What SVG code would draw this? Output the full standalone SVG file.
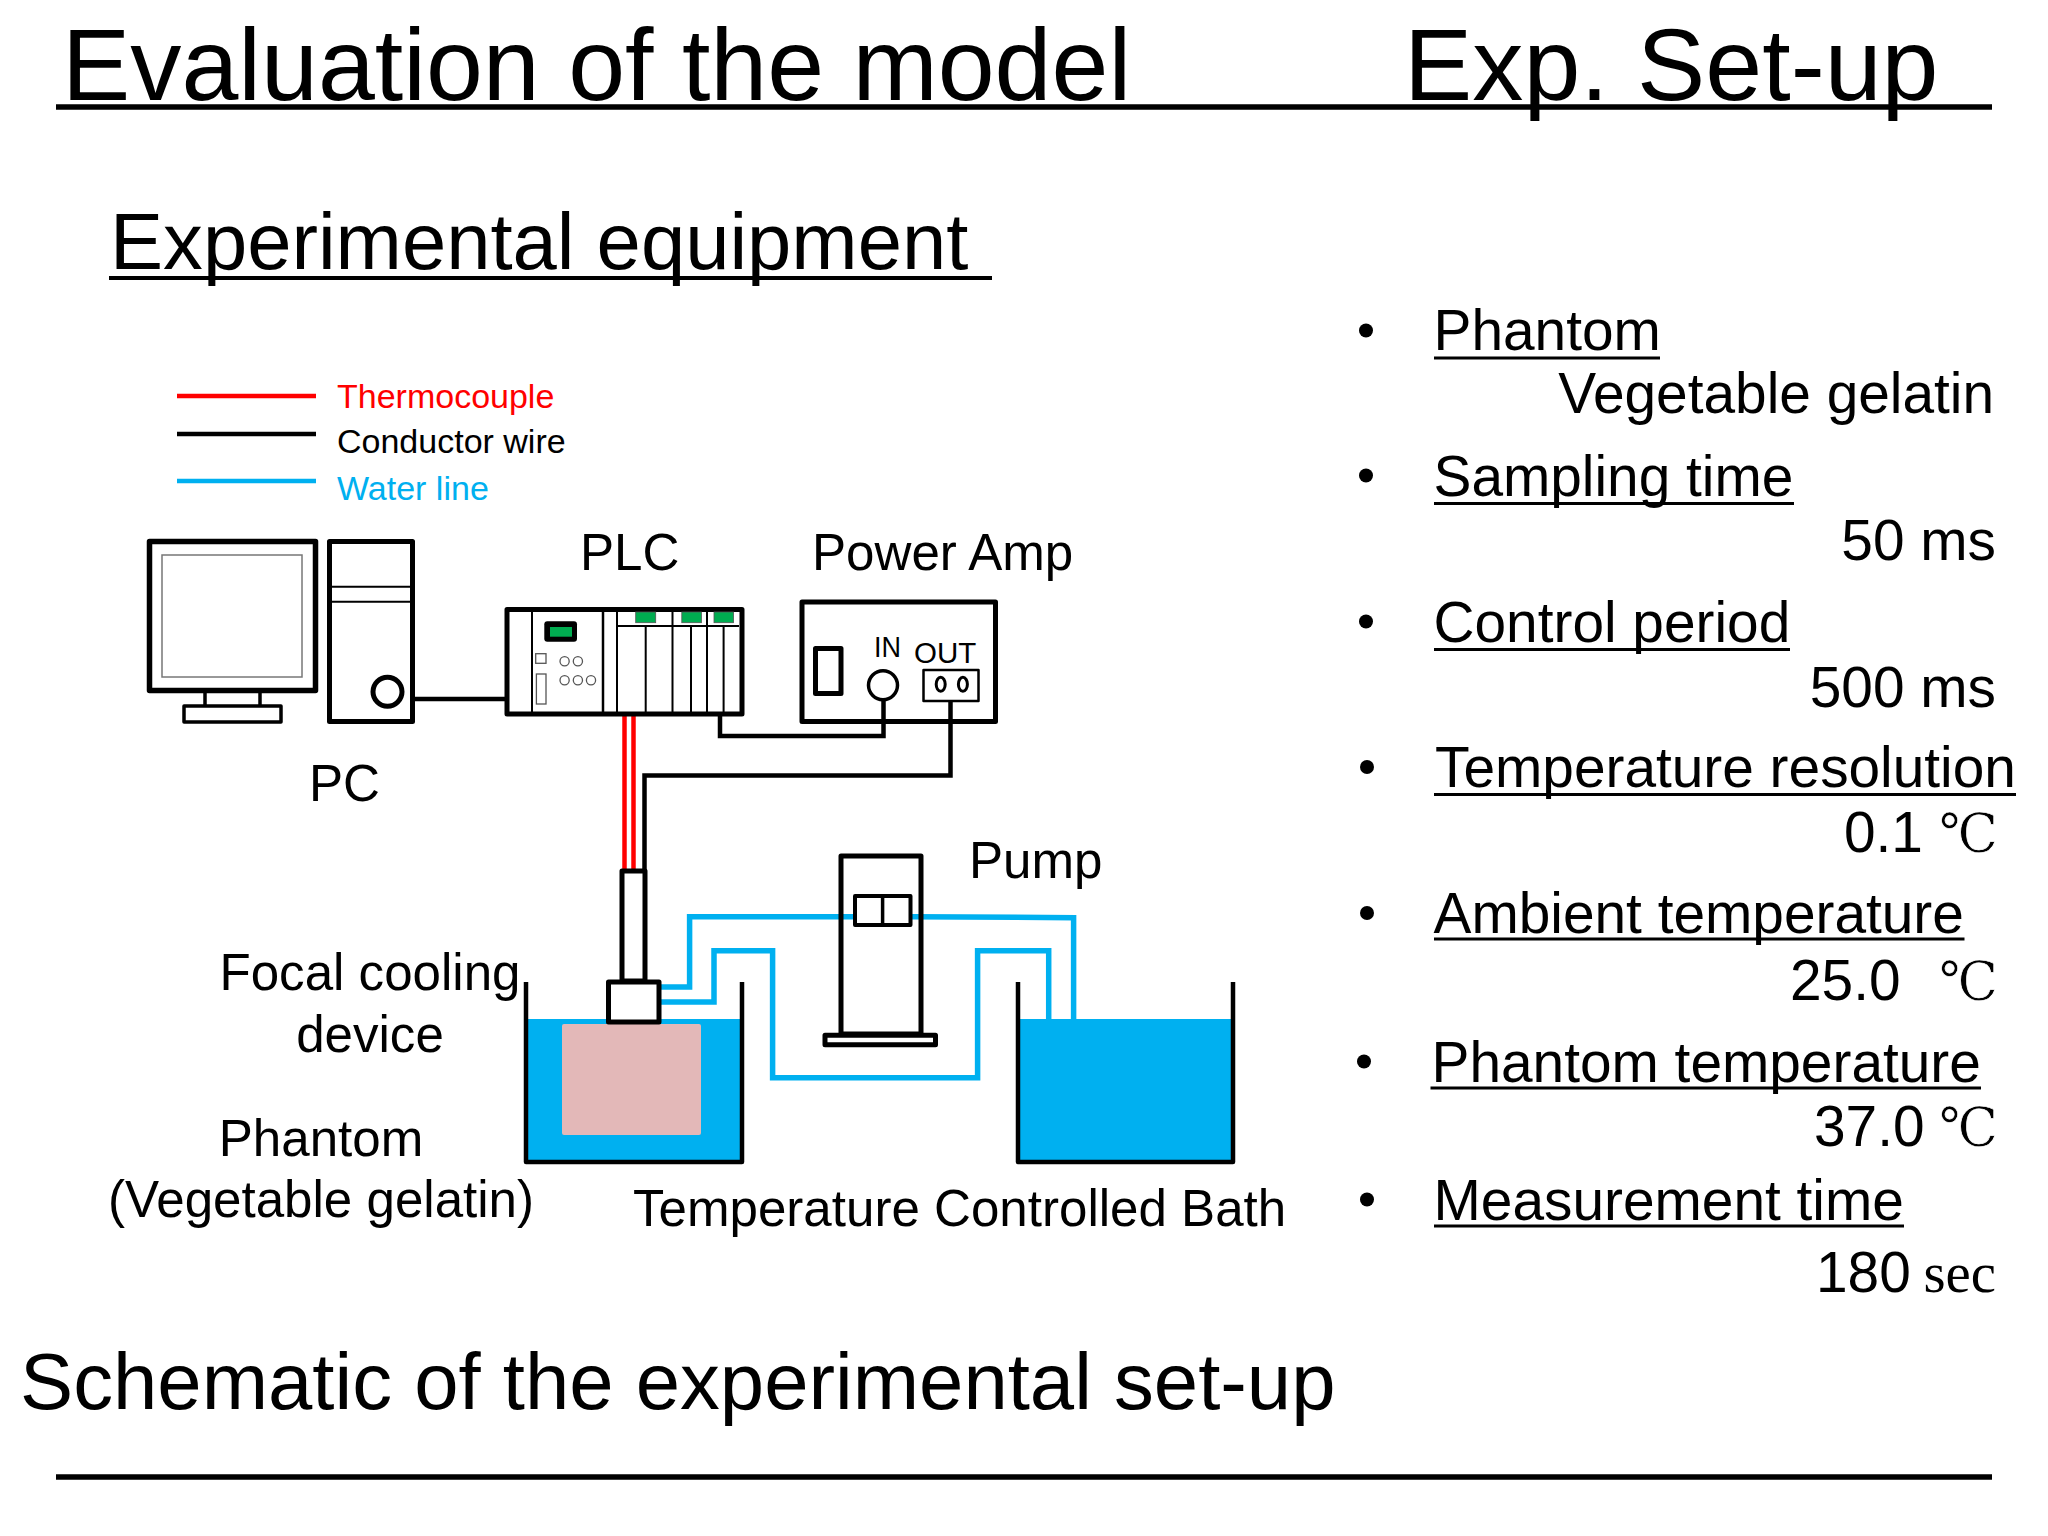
<svg xmlns="http://www.w3.org/2000/svg" width="2048" height="1536" viewBox="0 0 2048 1536">
<style>
text{font-family:"Liberation Sans",Arial,sans-serif;fill:#000}
.serif{font-family:"Liberation Serif","DejaVu Serif",serif}
.deg{font-family:"Liberation Serif","DejaVu Serif",serif;font-size:54px;stroke:#fff;stroke-width:.7}
.t56{font-size:56.8px}.t50{font-size:51.1px}
.k{fill:none;stroke:#000;stroke-linejoin:round}
.w{fill:#fff;stroke:#000;stroke-linejoin:round}
.v{fill:none;stroke:#000;stroke-width:2}
.g{fill:#fff;stroke:#555;stroke-width:1.3}
.gr{fill:#00ac50;stroke:#555;stroke-width:.8}
.wl{fill:none;stroke:#00b0f0;stroke-width:5.5;stroke-linejoin:miter}
.wire{fill:none;stroke:#000;stroke-width:4.5}
.tc{fill:none;stroke:#f00;stroke-width:4.5}
.ul{stroke:#000;stroke-width:3;fill:none}
.rule{stroke:#000;stroke-width:5.5;fill:none}
.water{fill:#00b0f0}
</style>
<rect width="2048" height="1536" fill="#fff"/>

<g id="headings">
<text x="62" y="100" font-size="102.3">Evaluation of the model</text>
<text x="1404" y="100" font-size="102.3">Exp. Set-up</text>
<line class="rule" x1="56" y1="107" x2="1992" y2="107"/>
<text x="110" y="268.5" font-size="79.6">Experimental equipment</text>
<line class="ul" style="stroke-width:4" x1="109" y1="278" x2="992" y2="278"/>
<text x="20" y="1409" font-size="79.7">Schematic of the experimental set-up</text>
<line class="rule" x1="56" y1="1477" x2="1992" y2="1477"/>
</g>

<g id="legend">
<line x1="177" y1="396" x2="316" y2="396" stroke="#f00" stroke-width="4.5"/>
<line x1="177" y1="434" x2="316" y2="434" stroke="#000" stroke-width="4.5"/>
<line x1="177" y1="481" x2="316" y2="481" stroke="#00b0f0" stroke-width="4.5"/>
<text x="337" y="408" font-size="34" style="fill:#f00">Thermocouple</text>
<text x="337" y="453" font-size="34">Conductor wire</text>
<text x="337" y="500" font-size="34" style="fill:#00b0f0">Water line</text>
</g>

<g id="baths">
<rect class="water" x="527" y="1019" width="214" height="142"/>
<rect x="562" y="1024" width="139" height="111" rx="2" fill="#e3b8b8"/>
<rect class="water" x="1018" y="1019" width="215" height="142"/>
<path class="k" stroke-width="4.5" d="M526 982V1162H742V982"/>
<path class="k" stroke-width="4.5" d="M1018 982V1162H1233V982"/>
</g>

<g id="connectors">
<line class="wire" x1="415" y1="699" x2="505" y2="699"/>
<path class="wire" d="M720 716V736H883.5V700"/>
<path class="wire" d="M950.5 701V775.5H644.5V870"/>
<line class="tc" x1="624.5" y1="716" x2="624.5" y2="871"/>
<line class="tc" x1="633.5" y1="716" x2="633.5" y2="871"/>
<path class="wl" d="M853 916.7H689.6V987H661"/>
<path class="wl" d="M659 1002H714V950.7H772.6V1077.7H977.6V950.7H1048.7V1019"/>
<path class="wl" d="M910 916.7L1073.6 917.7V1019"/>
</g>

<g id="pc">
<rect class="k" stroke-width="5.5" x="149.5" y="541.5" width="166" height="149"/>
<rect x="162" y="555" width="140" height="122" fill="#fff" stroke="#777" stroke-width="1.5"/>
<path class="k" stroke-width="3.5" d="M205 693V705M260 693V705"/>
<rect class="w" stroke-width="3.5" x="184" y="706" width="97" height="16"/>
<rect class="w" stroke-width="5" x="329.5" y="541.5" width="83" height="180"/>
<path class="v" d="M331 586.7H411M331 601.7H411"/>
<circle class="k" stroke-width="5" cx="387.5" cy="691.7" r="14.5"/>
<text x="309" y="800.5" class="t50">PC</text>
</g>

<g id="plc">
<rect class="w" stroke-width="5" x="507" y="609.5" width="235" height="104.5"/>
<path class="v" d="M532 612V714M617 612V714M672.5 612V714M707 612V714M645.7 626V714M691 626V714M723.6 626V714M617 626H739"/>
<path class="v" style="stroke-width:2.5" d="M603 612V714"/>
<rect class="gr" x="635.7" y="612" width="20" height="10.7"/>
<rect class="gr" x="681.8" y="612" width="19.6" height="10.7"/>
<rect class="gr" x="714" y="612" width="19.6" height="10.7"/>
<rect x="544.3" y="621.3" width="32.7" height="20.4" rx="3" fill="#000"/>
<rect x="550" y="627" width="22" height="9.7" fill="#00ac50"/>
<rect class="g" x="535.7" y="653.7" width="10.3" height="9.6"/>
<rect class="g" x="536.4" y="674" width="9.6" height="30"/>
<circle class="g" cx="564.6" cy="661.3" r="4.6"/><circle class="g" cx="577.9" cy="661.3" r="4.6"/>
<circle class="g" cx="564.6" cy="680.3" r="4.6"/><circle class="g" cx="577.9" cy="680.3" r="4.6"/><circle class="g" cx="591" cy="680.3" r="4.6"/>
<text x="580" y="570" class="t50">PLC</text>
</g>

<g id="power-amp">
<rect class="k" stroke-width="5" x="802" y="602" width="193.5" height="119.5"/>
<rect class="k" stroke-width="5" x="815.5" y="648.5" width="25.5" height="45"/>
<circle class="w" stroke-width="3.5" cx="883" cy="685.3" r="14.5"/>
<rect class="k" stroke-width="2.5" x="923.5" y="670" width="55" height="31"/>
<ellipse class="k" stroke-width="3" cx="940.7" cy="684.3" rx="4.5" ry="7"/>
<ellipse class="k" stroke-width="3" cx="962.9" cy="684.3" rx="4.5" ry="7"/>
<text x="874" y="657" font-size="29" textLength="27" lengthAdjust="spacingAndGlyphs">IN</text>
<text x="914" y="662.7" font-size="29.5">OUT</text>
<text x="812" y="570" class="t50">Power Amp</text>
</g>

<g id="focal-cooling-device">
<rect class="w" stroke-width="5" x="622" y="871" width="23" height="110"/>
<rect class="w" stroke-width="5" x="608.5" y="982" width="50.5" height="40"/>
<text x="370" y="989.5" class="t50" text-anchor="middle">Focal cooling</text>
<text x="370" y="1052" class="t50" text-anchor="middle">device</text>
</g>

<g id="pump">
<rect class="k" stroke-width="5" x="841" y="856" width="80" height="178"/>
<rect class="w" stroke-width="4" x="855" y="896" width="55.5" height="29"/>
<line class="k" stroke-width="3.5" x1="882.6" y1="896" x2="882.6" y2="925"/>
<rect class="w" stroke-width="5" x="825" y="1035.2" width="110.5" height="9.6"/>
<text x="969" y="877.5" class="t50">Pump</text>
</g>

<g id="labels">
<text x="321" y="1156" class="t50" text-anchor="middle">Phantom</text>
<text x="321" y="1217" class="t50" text-anchor="middle">(Vegetable gelatin)</text>
<text x="633" y="1226" class="t50">Temperature Controlled Bath</text>
</g>

<g id="parameters">
<circle cx="1366" cy="330.5" r="7"/><circle cx="1366" cy="475.5" r="7"/><circle cx="1366" cy="621.5" r="7"/><circle cx="1367" cy="767" r="7"/><circle cx="1367" cy="913" r="7"/><circle cx="1364" cy="1061.5" r="7"/><circle cx="1367" cy="1199.5" r="7"/>
<text x="1433.5" y="350" class="t56">Phantom</text>
<line class="ul" x1="1434" y1="358" x2="1660" y2="358"/>
<text x="1994" y="413" class="t56" text-anchor="end">Vegetable gelatin</text>
<text x="1433.5" y="495.5" class="t56">Sampling time</text>
<line class="ul" x1="1434" y1="503.5" x2="1794" y2="503.5"/>
<text x="1996" y="560" class="t56" text-anchor="end">50 ms</text>
<text x="1433.5" y="641.5" class="t56">Control period</text>
<line class="ul" x1="1434" y1="649.5" x2="1790" y2="649.5"/>
<text x="1996" y="707" class="t56" text-anchor="end">500 ms</text>
<text x="1435" y="787" class="t56">Temperature resolution</text>
<line class="ul" x1="1434" y1="794.5" x2="2016" y2="794.5"/>
<text x="1844" y="852" class="t56">0.1</text>
<text x="1939" y="852" class="deg" textLength="59" lengthAdjust="spacingAndGlyphs">℃</text>
<text x="1433.5" y="932.5" class="t56">Ambient temperature</text>
<line class="ul" x1="1434" y1="939" x2="1964.5" y2="939"/>
<text x="1790" y="999.5" class="t56">25.0</text>
<text x="1939" y="999.5" class="deg" textLength="59" lengthAdjust="spacingAndGlyphs">℃</text>
<text x="1431.5" y="1081.5" class="t56">Phantom temperature</text>
<line class="ul" x1="1430.5" y1="1088" x2="1981" y2="1088"/>
<text x="1814" y="1145.5" class="t56">37.0</text>
<text x="1939" y="1145.5" class="deg" textLength="59" lengthAdjust="spacingAndGlyphs">℃</text>
<text x="1433.5" y="1220" class="t56">Measurement time</text>
<line class="ul" x1="1434" y1="1226" x2="1904" y2="1226"/>
<text x="1816" y="1292" class="t56">180</text>
<text x="1996" y="1292" class="t56 serif" text-anchor="end">sec</text>
</g>
</svg>
